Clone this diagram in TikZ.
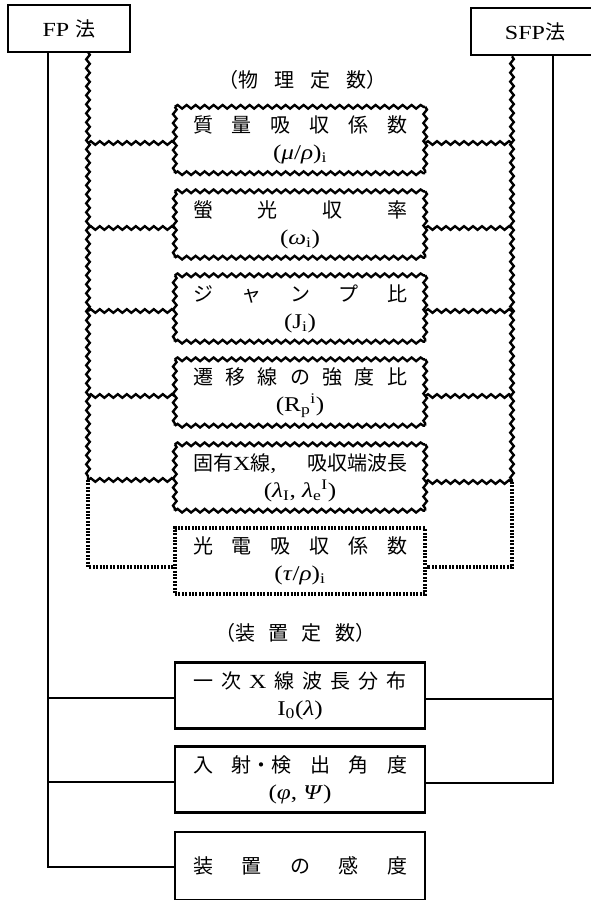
\documentclass[tikz,border=0pt]{standalone}
\usepackage{fontspec}
\setmainfont[FakeStretch=1.2]{Liberation Serif}
\newfontfamily\cjk{Noto Sans CJK JP}
\usetikzlibrary{decorations.pathmorphing}
\newcommand{\fl}[1]{{\fontsize{21}{22}\selectfont #1}}
\newcommand{\gi}[1]{\textit{#1}}
\begin{document}
\begin{tikzpicture}[x=1pt,y=-1pt,
  wavy/.style={decorate, decoration={snake, segment length=9pt, amplitude=1.8pt}, line width=2.4pt},
  dotln/.style={line width=3.2pt, dash pattern=on 2pt off 1.4pt},
  solidln/.style={line width=2.4pt},
  boxbase/.style={minimum width=250pt, minimum height=66pt, inner sep=0pt, align=center,
     font=\fontsize{20}{27}\selectfont},
  wbox/.style={boxbase},
  dbox/.style={boxbase, draw, dotln},
  sbox/.style={boxbase, draw, line width=2.6pt},
  headbox/.style={draw, line width=2.6pt, minimum height=47pt, inner sep=0pt, font=\fontsize{20}{22}\selectfont},
  lbl/.style={font=\fontsize{20}{22}\selectfont, inner sep=0pt}
]
\useasboundingbox (0,0) rectangle (590,900);

% method boxes
\node[headbox, minimum width=122pt] (fp) at (69,28.5) {FP\hspace{6pt}{\cjk 法}};
\node[headbox, minimum width=140pt] (sfp) at (541,31.5) {};
\node[lbl] (sfpt) at (535,31.5) {SFP{\cjk 法}};

% labels
\node[lbl] (phys) at (302,80) {\makebox[168pt]{\cjk （物\hfill 理\hfill 定\hfill 数）}};
\node[lbl] (dev) at (295,633) {\makebox[160pt]{\cjk （装\hfill 置\hfill 定\hfill 数）}};

% physical constant boxes
\node[wbox] (b1) at (300,140) {\makebox[214pt]{\cjk 質\hfill 量\hfill 吸\hfill 収\hfill 係\hfill 数}\\ \fl{(\gi{μ}/\gi{ρ})\textsubscript{i}}};
\node[wbox] (b2) at (300,224.5) {\makebox[214pt]{\cjk 螢\hfill 光\hfill 収\hfill 率}\\ \fl{(\gi{ω}\textsubscript{i})}};
\node[wbox] (b3) at (300,308.5) {\makebox[214pt]{\cjk ジ\hfill ャ\hfill ン\hfill プ\hfill 比}\\ \fl{(J\textsubscript{i})}};
\node[wbox] (b4) at (300,392.5) {\makebox[214pt]{\cjk 遷\hfill 移\hfill 線\hfill の\hfill 強\hfill 度\hfill 比}\\ \fl{(R\textsubscript{p}\textsuperscript{i})}};
\node[wbox] (b5) at (300,477.5) {\makebox[214pt]{{\cjk 固有}X{\cjk 線}{,}\hfill {\cjk 吸収端波長}}\\ \fl{(\gi{λ}\textsubscript{I},\ \gi{λ}\textsubscript{e}\textsuperscript{I})}};
\node[dbox] (b6) at (300,561) {\makebox[214pt]{\cjk 光\hfill 電\hfill 吸\hfill 収\hfill 係\hfill 数}\\ \fl{(\gi{τ}/\gi{ρ})\textsubscript{i}}};

\foreach \b in {b1,b2,b3,b4,b5}{
  \draw[wavy] (\b.north west) -- (\b.north east);
  \draw[wavy] (\b.south west) -- (\b.south east);
  \draw[wavy] (\b.north west) -- (\b.south west);
  \draw[wavy] (\b.north east) -- (\b.south east);
}

% device constant boxes
\node[sbox] (d1) at (300,695.5) {\makebox[214pt]{{\cjk 一}\hfill{\cjk 次}\hfill X\hfill{\cjk 線}\hfill{\cjk 波}\hfill{\cjk 長}\hfill{\cjk 分}\hfill{\cjk 布}}\\ \fl{I\textsubscript{0}(\gi{λ})}};
\node[sbox] (d2) at (300,779.5) {\makebox[214pt]{\cjk 入\hfill 射・検\hfill 出\hfill 角\hfill 度}\\ \fl{(\gi{φ},\ \gi{Ψ})}};
\node[sbox, minimum height=68pt] (d3) at (300,866) {\makebox[214pt]{\cjk 装\hfill 置\hfill の\hfill 感\hfill 度}};

% FP connectors
\coordinate (fpw0) at (88,52);
\coordinate (fpw1) at (88,480);
\coordinate (fpw2) at (88,567);
\draw[wavy] (fpw0) -- (fpw1);
\draw[dotln] (fpw1) -- (fpw2) -- (fpw2 -| b6.west);
\foreach \b/\yy in {b1/143,b2/228,b3/311,b4/396,b5/480}
  \draw[wavy] (88,\yy) -- (\b.west |- 0,\yy);

\coordinate (fps0) at (48,52);
\coordinate (fps1) at (48,867);
\draw[solidln] (fp.south -| fps0) -- (fps1) -- (fps1 -| d3.west);
\draw[solidln] (48,698) -- (d1.west |- 0,698);
\draw[solidln] (48,782) -- (d2.west |- 0,782);

% SFP connectors
\coordinate (sw0) at (512,55);
\coordinate (sw1) at (512,482);
\coordinate (sw2) at (512,567);
\draw[wavy] (sfp.south -| sw0) -- (sw1);
\draw[dotln] (sw1) -- (sw2) -- (sw2 -| b6.east);
\foreach \b/\yy in {b1/143,b2/228,b3/311,b4/396,b5/482}
  \draw[wavy] (\b.east |- 0,\yy) -- (512,\yy);

\coordinate (ss1) at (553,783);
\draw[solidln] (sfp.south -| ss1) -- (ss1) -- (ss1 -| d2.east);
\draw[solidln] (d1.east |- 0,699) -- (553,699);
\end{tikzpicture}
\end{document}
